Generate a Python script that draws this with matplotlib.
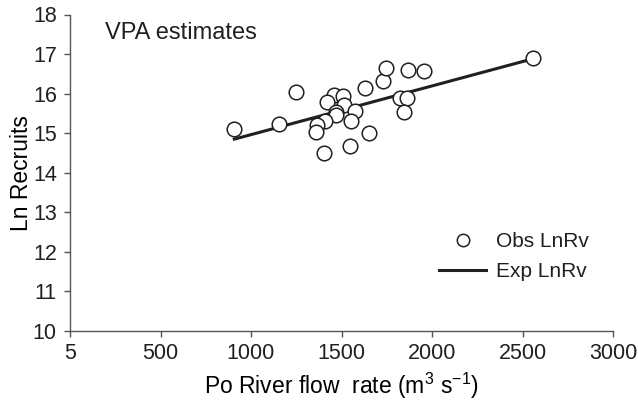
import matplotlib.pyplot as plt

# Observed ln recruits (VPA estimates) vs Po River flow rate
obs_flow = [908, 1152, 1247, 1458, 1509, 1421, 1513, 1467, 1467, 1577, 1408, 1366,
            1357, 1555, 1650, 1546, 1403, 1632, 1727, 1746, 1870, 1956, 1824, 1864,
            1846, 2557]
obs_lnrv = [15.10, 15.23, 16.03, 15.97, 15.93, 15.78, 15.72, 15.53, 15.47, 15.57, 15.31, 15.21,
            15.04, 15.30, 15.00, 14.67, 14.50, 16.14, 16.31, 16.64, 16.60, 16.56, 15.89, 15.89,
            15.53, 16.90]

# Expected (fitted) line
exp_flow = [908, 2557]
exp_lnrv = [14.85, 16.88]

x_ticks = [0, 500, 1000, 1500, 2000, 2500, 3000]
x_tick_labels = ["5", "500", "1000", "1500", "2000", "2500", "3000"]
y_ticks = [10, 11, 12, 13, 14, 15, 16, 17, 18]

INK = "#231f20"
AXIS = "#555555"

plt.rcParams.update({
    "font.family": ["Liberation Sans", "DejaVu Sans"],
    "font.size": 15.5,
    "mathtext.fontset": "custom",
    "mathtext.rm": "Liberation Sans",
    "mathtext.it": "Liberation Sans:italic",
    "mathtext.bf": "Liberation Sans:bold",
    "text.color": INK,
})

fig = plt.figure(figsize=(6.38, 4.01), dpi=100)
ax = fig.add_axes([70 / 638, 70 / 401, 543 / 638, 316.5 / 401])

ax.plot(exp_flow, exp_lnrv, color=INK, linewidth=2.2, label="Exp LnRv", zorder=2)
ax.plot(obs_flow, obs_lnrv, linestyle="none", marker="o", markersize=10.5,
        markerfacecolor="white", markeredgecolor=INK, markeredgewidth=1.1,
        label="Obs LnRv", zorder=3)

ax.set_xlim(0, 3000)
ax.set_ylim(10, 18)
ax.set_xticks(x_ticks)
ax.set_xticklabels(x_tick_labels)
ax.set_yticks(y_ticks)

for side in ["top", "right"]:
    ax.spines[side].set_visible(False)
for side in ["left", "bottom"]:
    ax.spines[side].set_color(AXIS)
    ax.spines[side].set_linewidth(1.0)
ax.tick_params(axis="both", direction="out", length=4.5, width=1.0, color=AXIS,
               labelcolor=INK, labelsize=15.5)
ax.tick_params(axis="y", pad=5)
ax.tick_params(axis="x", pad=4)

ax.set_ylabel("Ln Recruits", fontsize=16.5)
ax.yaxis.set_label_coords(-0.068, 0.5)
ax.set_xlabel("Po River flow  rate (m$^3$ s$^{\u22121}$)", fontsize=16.5)
ax.xaxis.set_label_coords(0.5, -0.125)

ax.text(0.064, 0.94, "VPA estimates", transform=ax.transAxes, fontsize=17,
        ha="left", va="center")

handles, labels = ax.get_legend_handles_labels()
ax.legend(handles[::-1], labels[::-1], loc="center left",
          bbox_to_anchor=(0.68, 0.235), frameon=False, borderpad=0,
          borderaxespad=0, handlelength=2.26, handletextpad=0.48,
          labelspacing=0.52, fontsize=15, markerscale=0.85)

fig.savefig("out.png", dpi=100)
